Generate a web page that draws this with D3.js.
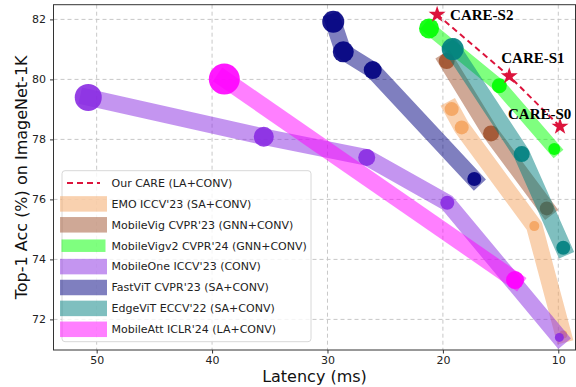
<!DOCTYPE html>
<html>
<head>
<meta charset="utf-8">
<script src="https://cdn.jsdelivr.net/npm/d3@7"></script>
<style>
  body { margin: 0; background: #fff; }
  svg { display: block; font-family: "DejaVu Sans", sans-serif; }
</style>
</head>
<body>
<div id="chart"></div>
<script>
// ---- data ----
var careNames = ['CARE-S2', 'CARE-S1', 'CARE-S0'];
var careLatency = [20.5, 14.25, 9.85];
var careAcc = [82.16, 80.11, 78.43];

var seriesNames = [
  "EMO ICCV'23 (SA+CONV)",
  "MobileVig CVPR'23 (GNN+CONV)",
  "MobileVigv2 CVPR'24 (GNN+CONV)",
  "MobileOne ICCV'23 (CONV)",
  "FastViT CVPR'23 (SA+CONV)",
  "EdgeViT ECCV'22 (SA+CONV)",
  "MobileAtt ICLR'24 (LA+CONV)"
];
var seriesColors = ['#f4a460', '#a0522d', '#00ff00', '#8a2be2', '#000080', '#008080', '#ff00ff'];

var emoLatency = [19.24, 18.37, 12.08, 9.57];
var emoAcc = [79.01, 78.4, 75.11, 71.5];
var emoSize = [7, 7, 5, 4];

var vigLatency = [19.67, 15.83, 11.0];
var vigAcc = [80.61, 78.2, 75.7];
var vigSize = [8, 8, 7];

var vig2Latency = [21.2, 15.11, 10.35];
var vig2Acc = [81.7, 79.79, 77.68];
var vig2Size = [10, 7.5, 6];

var oneLatency = [50.73, 35.52, 26.6, 19.62, 9.91];
var oneAcc = [79.4, 78.09, 77.4, 75.89, 71.4];
var oneSize = [13.5, 10, 8.5, 7, 4.5];

var fastLatency = [29.5, 28.63, 26.08, 17.28];
var fastAcc = [81.92, 80.92, 80.31, 76.68];
var fastSize = [11, 10.5, 9, 7];

var edgeLatency = [19.15, 13.17, 9.57];
var edgeAcc = [81.01, 77.51, 74.39];
var edgeSize = [11, 8, 7];

var attLatency = [38.94, 13.75];
var attAcc = [80.01, 73.31];
var attSize = [15.5, 9];

var xTicks = [50, 40, 30, 20, 10];
var yTicks = [72, 74, 76, 78, 80, 82];

var seriesLatency = [emoLatency, vigLatency, vig2Latency, oneLatency, fastLatency, edgeLatency, attLatency];
var seriesAcc = [emoAcc, vigAcc, vig2Acc, oneAcc, fastAcc, edgeAcc, attAcc];
var seriesSize = [emoSize, vigSize, vig2Size, oneSize, fastSize, edgeSize, attSize];

// ---- layout ----
var width = 576, height = 387;
var plot = { left: 53.5, right: 575.5, top: 4.7, bottom: 350 };

var x = d3.scaleLinear().domain([53.74, 8.51]).range([plot.left, plot.right]);
var y = d3.scaleLinear().domain([70.98, 82.49]).range([plot.bottom, plot.top]);

var svg = d3.select('#chart').append('svg')
  .attr('width', width)
  .attr('height', height);

svg.append('defs').append('clipPath').attr('id', 'clip')
  .append('rect')
  .attr('x', plot.left).attr('y', plot.top)
  .attr('width', plot.right - plot.left).attr('height', plot.bottom - plot.top);

// grid
var grid = svg.append('g');
grid.selectAll('.gx').data(xTicks).enter().append('line')
  .attr('x1', function (d) { return x(d); }).attr('x2', function (d) { return x(d); })
  .attr('y1', plot.top).attr('y2', plot.bottom)
  .attr('stroke', '#c8c8c8').attr('stroke-width', 1).attr('stroke-dasharray', '4,3');
grid.selectAll('.gy').data(yTicks).enter().append('line')
  .attr('y1', function (d) { return y(d); }).attr('y2', function (d) { return y(d); })
  .attr('x1', plot.left).attr('x2', plot.right)
  .attr('stroke', '#c8c8c8').attr('stroke-width', 1).attr('stroke-dasharray', '4,3');

var marks = svg.append('g').attr('clip-path', 'url(#clip)');
var line = d3.line().x(function (d) { return x(d[0]); }).y(function (d) { return y(d[1]); });

seriesNames.forEach(function (name, i) {
  var pts = seriesLatency[i].map(function (v, j) { return [v, seriesAcc[i][j], seriesSize[i][j]]; });
  marks.append('path')
    .datum(pts)
    .attr('d', line)
    .attr('fill', 'none')
    .attr('stroke', seriesColors[i])
    .attr('stroke-opacity', 0.5)
    .attr('stroke-width', i === 2 ? 13 : 16.5)
    .attr('stroke-linecap', 'square')
    .attr('stroke-linejoin', 'round');
  marks.selectAll('.pt' + i).data(pts).enter().append('circle')
    .attr('cx', function (d) { return x(d[0]); })
    .attr('cy', function (d) { return y(d[1]); })
    .attr('r', function (d) { return d[2]; })
    .attr('fill', seriesColors[i])
    .attr('fill-opacity', 0.9);
});

// our CARE
var carePts = careLatency.map(function (v, j) { return [v, careAcc[j]]; });
marks.append('path')
  .datum(carePts)
  .attr('d', line)
  .attr('fill', 'none')
  .attr('stroke', '#dc143c')
  .attr('stroke-width', 2)
  .attr('stroke-dasharray', '6,4');
marks.selectAll('.star').data(carePts).enter().append('path')
  .attr('transform', function (d) { return 'translate(' + x(d[0]) + ',' + y(d[1]) + ')'; })
  .attr('d', d3.symbol().type(d3.symbolStar).size(90))
  .attr('fill', '#dc143c');

var labelOffsets = [[13, 0], [-8, -18], [-52, -13]];
svg.selectAll('.care-label').data(carePts).enter().append('text')
  .attr('x', function (d, j) { return x(d[0]) + labelOffsets[j][0]; })
  .attr('y', function (d, j) { return y(d[1]) + labelOffsets[j][1]; })
  .attr('dy', '0.35em')
  .attr('font-family', '"Liberation Serif", "Times New Roman", serif')
  .attr('font-weight', 'bold')
  .attr('font-size', 15)
  .attr('fill', '#000')
  .text(function (d, j) { return careNames[j]; });

// frame
svg.append('rect')
  .attr('x', plot.left).attr('y', plot.top)
  .attr('width', plot.right - plot.left).attr('height', plot.bottom - plot.top)
  .attr('fill', 'none').attr('stroke', '#333').attr('stroke-width', 1);

// axes
var xAxis = svg.append('g')
  .attr('transform', 'translate(0,' + plot.bottom + ')')
  .call(d3.axisBottom(x).tickValues(xTicks).tickSize(3.5).tickPadding(2.5));
var yAxis = svg.append('g')
  .attr('transform', 'translate(' + plot.left + ',0)')
  .call(d3.axisLeft(y).tickValues(yTicks).tickSize(3.5).tickPadding(4));
[xAxis, yAxis].forEach(function (a) {
  a.select('.domain').remove();
  a.selectAll('.tick line').attr('stroke', '#333');
  a.selectAll('.tick text')
    .attr('font-family', '"DejaVu Sans", sans-serif')
    .attr('font-size', 11)
    .attr('fill', '#222');
});

svg.append('text')
  .attr('x', (plot.left + plot.right) / 2)
  .attr('y', 382)
  .attr('text-anchor', 'middle')
  .attr('font-size', 16)
  .attr('fill', '#111')
  .text('Latency (ms)');

svg.append('text')
  .attr('transform', 'translate(27,' + (plot.top + plot.bottom) / 2 + ') rotate(-90)')
  .attr('text-anchor', 'middle')
  .attr('font-size', 16)
  .attr('fill', '#111')
  .text('Top-1 Acc (%) on ImageNet-1K');

// legend
var legend = svg.append('g');
legend.append('rect')
  .attr('x', 62).attr('y', 170.7)
  .attr('width', 249).attr('height', 171)
  .attr('rx', 3)
  .attr('fill', '#fff').attr('fill-opacity', 0.8)
  .attr('stroke', '#d8d8d8').attr('stroke-width', 1);

var rowY0 = 183, rowGap = 20.9;
legend.append('line')
  .attr('x1', 67).attr('x2', 100)
  .attr('y1', rowY0).attr('y2', rowY0)
  .attr('stroke', '#dc143c').attr('stroke-width', 2).attr('stroke-dasharray', '6,4');
legend.append('text')
  .attr('x', 111.5).attr('y', rowY0).attr('dy', '0.35em')
  .attr('font-size', 11).attr('fill', '#222')
  .text('Our CARE (LA+CONV)');

seriesNames.forEach(function (name, i) {
  var cy = rowY0 + rowGap * (i + 1);
  var h = i === 2 ? 12.5 : 15.5;
  legend.append('rect')
    .attr('x', i === 2 ? 61.5 : 60).attr('y', cy - h / 2)
    .attr('width', i === 2 ? 44 : 47).attr('height', h)
    .attr('fill', seriesColors[i]).attr('fill-opacity', 0.5);
  legend.append('text')
    .attr('x', 111.5).attr('y', cy).attr('dy', '0.35em')
    .attr('font-size', 11).attr('fill', '#222')
    .text(name);
});
</script>
</body>
</html>
